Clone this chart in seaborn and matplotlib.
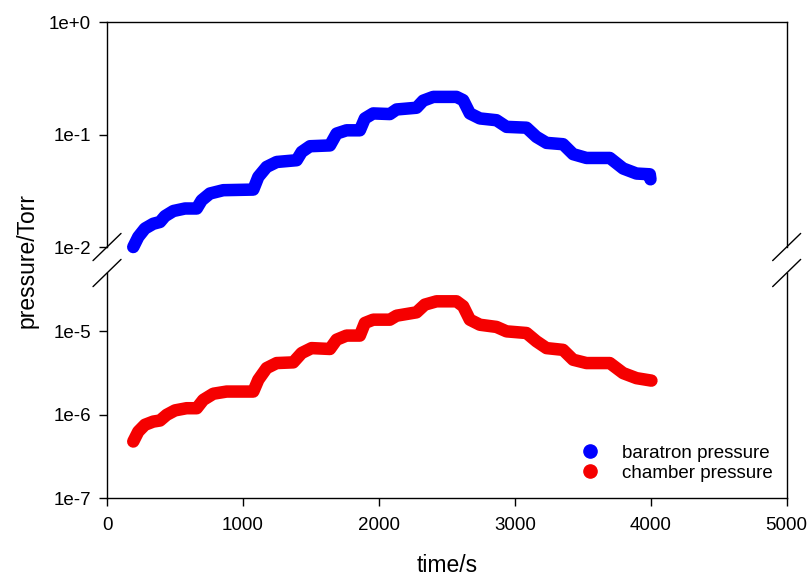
import numpy as np
import pandas as pd
import matplotlib.pyplot as plt
import seaborn as sns
from matplotlib.lines import Line2D
from matplotlib.ticker import FixedLocator, NullLocator

# Dados (tempo em s, pressão em Torr)
tempo_baratron = [193, 230, 279, 340, 390, 426, 488, 574, 660, 696, 757, 855,
                  1076, 1113, 1174, 1248, 1395, 1432, 1493, 1640, 1689, 1762,
                  1860, 1897, 1958, 2081, 2130, 2277, 2326, 2400, 2571, 2620,
                  2669, 2743, 2865, 2939, 3086, 3159, 3233, 3355, 3429, 3527,
                  3699, 3797, 3895, 3993, 3998]
p_baratron = [0.0100, 0.0123, 0.0146, 0.0161, 0.0167, 0.0188, 0.0209, 0.0220,
              0.0220, 0.0260, 0.0299, 0.0320, 0.0324, 0.0420, 0.0515, 0.0570,
              0.0591, 0.0700, 0.0787, 0.0800, 0.102, 0.109, 0.109, 0.139,
              0.154, 0.152, 0.167, 0.173, 0.200, 0.216, 0.216, 0.202, 0.154,
              0.139, 0.134, 0.117, 0.115, 0.0953, 0.0843, 0.0820, 0.0669,
              0.0619, 0.0619, 0.0499, 0.0450, 0.0443, 0.0400]

tempo_camara = [193, 230, 279, 340, 390, 439, 500, 585, 660, 708, 782, 880,
                1076, 1113, 1174, 1248, 1370, 1432, 1505, 1640, 1689, 1762,
                1860, 1897, 1958, 2081, 2130, 2277, 2338, 2424, 2571, 2620,
                2669, 2743, 2865, 2939, 3086, 3159, 3233, 3355, 3429, 3527,
                3699, 3797, 3895, 4005]
p_camara = [4.79e-7, 6.3e-7, 7.6e-7, 8.3e-7, 8.55e-7, 1.0e-6, 1.13e-6, 1.2e-6,
            1.2e-6, 1.51e-6, 1.79e-6, 1.9e-6, 1.9e-6, 2.63e-6, 3.63e-6,
            4.17e-6, 4.25e-6, 5.5e-6, 6.3e-6, 6.15e-6, 7.95e-6, 8.9e-6,
            8.9e-6, 1.26e-5, 1.38e-5, 1.38e-5, 1.54e-5, 1.69e-5, 2.09e-5,
            2.29e-5, 2.29e-5, 2.0e-5, 1.38e-5, 1.2e-5, 1.13e-5, 1.0e-5,
            9.55e-6, 7.6e-6, 6.3e-6, 6.0e-6, 4.57e-6, 4.17e-6, 4.17e-6,
            3.16e-6, 2.75e-6, 2.57e-6]

ticks_x = [0, 1000, 2000, 3000, 4000, 5000]
ticks_sup = [1e0, 1e-1, 1e-2]
rotulos_sup = ['1e+0', '1e-1', '1e-2']
ticks_inf = [1e-5, 1e-6, 1e-7]
rotulos_inf = ['1e-5', '1e-6', '1e-7']
nomes = ['baratron pressure', 'chamber pressure']
cores = ['#0000ff', '#f50000']

sns.set_theme(style="ticks")
plt.rcParams['font.family'] = ['Liberation Sans', 'DejaVu Sans']
plt.rcParams['axes.edgecolor'] = 'black'
plt.rcParams['axes.linewidth'] = 1.0
plt.rcParams['text.color'] = 'black'

df_b = pd.DataFrame({'tempo': tempo_baratron, 'pressao': p_baratron})
df_c = pd.DataFrame({'tempo': tempo_camara, 'pressao': p_camara})

fig = plt.figure(figsize=(8.12, 5.75), dpi=100)
ax_sup = fig.add_axes([0.1318, 0.5704, 0.837, 0.3913])
ax_inf = fig.add_axes([0.1318, 0.1334, 0.837, 0.3918])

sns.lineplot(data=df_b, x='tempo', y='pressao', ax=ax_sup, color=cores[0],
             linewidth=9, solid_capstyle='round', solid_joinstyle='round',
             clip_on=False)
sns.lineplot(data=df_c, x='tempo', y='pressao', ax=ax_inf, color=cores[1],
             linewidth=9, solid_capstyle='round', solid_joinstyle='round',
             clip_on=False)

for ax in (ax_sup, ax_inf):
    ax.set_yscale('log')
    ax.set_xlim(0, 5000)
    ax.set_xlabel('')
    ax.set_ylabel('')
    ax.yaxis.set_minor_locator(NullLocator())
    ax.tick_params(axis='both', direction='out', length=5.5, width=1,
                   labelsize=13.5, colors='black')
    ax.tick_params(axis='y', pad=6)
    ax.tick_params(axis='x', pad=8)

ax_sup.set_ylim(1e-2, 1e0)
ax_sup.yaxis.set_major_locator(FixedLocator(ticks_sup))
ax_sup.set_yticklabels(rotulos_sup)
ax_sup.spines['bottom'].set_visible(False)
ax_sup.tick_params(axis='x', bottom=False, labelbottom=False)

ax_inf.set_ylim(1e-7, 5e-5)
ax_inf.yaxis.set_major_locator(FixedLocator(ticks_inf))
ax_inf.set_yticklabels(rotulos_inf)
ax_inf.spines['top'].set_visible(False)
ax_inf.xaxis.set_major_locator(FixedLocator(ticks_x))
ax_inf.set_xticklabels([str(t) for t in ticks_x])

# Marcas de quebra do eixo
dx, dy = 0.0206, 0.0604
kw = dict(color='black', linewidth=1.0, clip_on=False)
for xc in (0, 1):
    ax_sup.plot([xc - dx, xc + dx], [-dy, dy], transform=ax_sup.transAxes, **kw)
    ax_inf.plot([xc - dx, xc + dx], [1 - dy, 1 + dy], transform=ax_inf.transAxes, **kw)

# Legenda
handles = [Line2D([], [], linestyle='none', marker='o', markersize=9.5,
                  color=c) for c in cores]
leg = ax_inf.legend(handles, nomes, loc='center left', bbox_to_anchor=(0.6974, 0.1567),
                    frameon=False, fontsize=13.5, handlelength=1, handletextpad=1.2,
                    labelspacing=0.15, borderpad=0, borderaxespad=0)
for t in leg.get_texts():
    t.set_color('black')

fig.text(447 / 812, 1 - 565 / 575, 'time/s', ha='center', va='center', fontsize=16.5)
fig.text(27 / 812, 1 - 260 / 575, 'pressure/Torr', ha='center', va='center',
         rotation=90, fontsize=16.5)

fig.savefig('out.png', dpi=100)
